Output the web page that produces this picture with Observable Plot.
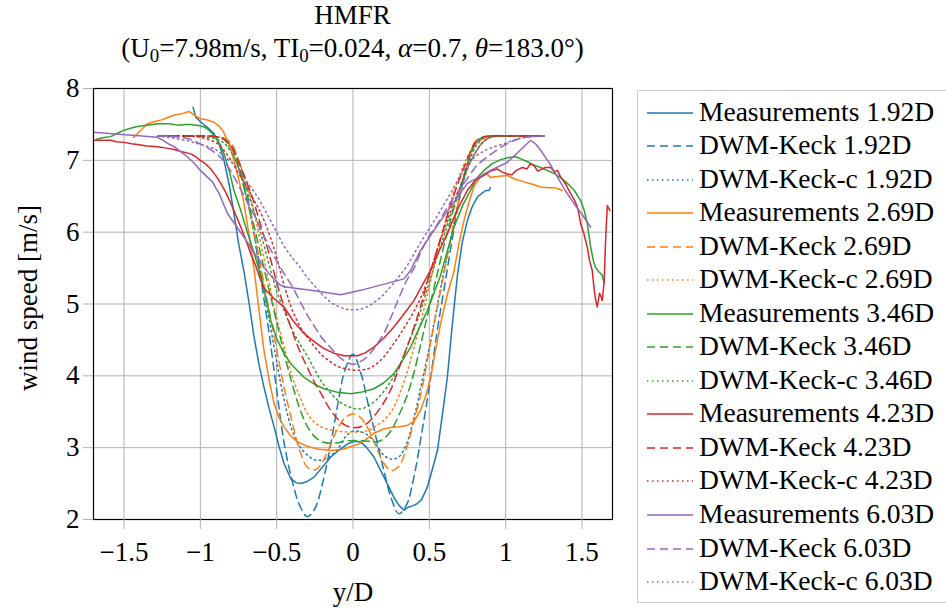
<!DOCTYPE html>
<html>
<head>
<meta charset="utf-8">
<script src="https://cdn.jsdelivr.net/npm/d3@7"></script>
<script src="https://cdn.jsdelivr.net/npm/@observablehq/plot@0.6"></script>
<style>
  body { margin: 0; background: white; }
  #wrap { position: relative; width: 946px; height: 611px; overflow: hidden; background: white; font-family: "Liberation Serif", serif; color: black; }
  .ttl { position: absolute; left: 0; width: 705px; text-align: center; font-size: 27px; line-height: 30px; white-space: nowrap; }
  .ttl sub { font-size: 70%; vertical-align: -0.28em; line-height: 0; }
  #legend { position: absolute; left: 637px; top: 90px; width: 340px; height: 513px; border: 1px solid #cccccc; background: white; box-sizing: border-box; }
  .row { position: absolute; left: 0; height: 34px; display: flex; align-items: center; white-space: nowrap; font-size: 27.5px; }
  .row svg { margin-left: 9px; margin-right: 6px; }
  #chart { position: absolute; left: 0; top: 0; }
</style>
</head>
<body>
<div id="wrap">
  <div class="ttl" style="top:0px">HMFR</div>
  <div class="ttl" style="top:33px">(U<sub>0</sub>=7.98m/s, TI<sub>0</sub>=0.024, <i>α</i>=0.7, <i>θ</i>=183.0°)</div>
  <div id="chart"></div>
  <div id="legend"></div>
</div>
<script>
// ---------- data ----------
const xTicks = [-1.5, -1, -0.5, 0, 0.5, 1, 1.5];
const yTicks = [2, 3, 4, 5, 6, 7, 8];
const distances = ["1.92D", "2.69D", "3.46D", "4.23D", "6.03D"];
const colors = ["#1f77b4", "#ff7f0e", "#2ca02c", "#d62728", "#9467bd"];

// Measurements: [y/D, wind speed]
const meas192 = [[-1.048,7.74],[-1.03,7.6],[-1.02,7.58],[-0.99,7.52],[-0.954,7.46],[-0.91,7.37],[-0.877,7.23],[-0.845,7.0],[-0.81,6.65],[-0.78,6.26],[-0.75,5.85],[-0.714,5.45],[-0.68,5.0],[-0.648,4.54],[-0.615,4.15],[-0.583,3.84],[-0.55,3.55],[-0.517,3.29],[-0.485,3.02],[-0.452,2.78],[-0.408,2.57],[-0.37,2.51],[-0.342,2.5],[-0.3,2.53],[-0.255,2.59],[-0.2,2.73],[-0.146,2.87],[-0.09,2.97],[-0.037,3.05],[0.007,3.09],[0.05,3.08],[0.09,3.0],[0.137,2.87],[0.17,2.73],[0.203,2.59],[0.235,2.45],[0.268,2.31],[0.3,2.2],[0.334,2.13],[0.36,2.17],[0.39,2.19],[0.42,2.22],[0.45,2.28],[0.487,2.45],[0.52,2.7],[0.553,2.96],[0.585,3.45],[0.618,3.98],[0.65,4.7],[0.684,5.4],[0.715,5.85],[0.749,6.16],[0.78,6.35],[0.815,6.49],[0.85,6.55],[0.87,6.58],[0.891,6.58],[0.9,6.62]];
const meas269 = [[-1.438,7.32],[-1.39,7.42],[-1.347,7.51],[-1.3,7.54],[-1.26,7.56],[-1.21,7.6],[-1.17,7.63],[-1.12,7.65],[-1.074,7.68],[-1.04,7.63],[-1.0,7.58],[-0.95,7.56],[-0.91,7.53],[-0.88,7.48],[-0.855,7.42],[-0.822,7.28],[-0.8,7.15],[-0.78,7.0],[-0.75,6.75],[-0.714,6.4],[-0.68,5.95],[-0.648,5.48],[-0.615,4.9],[-0.583,4.35],[-0.55,3.95],[-0.517,3.61],[-0.485,3.42],[-0.452,3.29],[-0.41,3.17],[-0.364,3.08],[-0.3,3.02],[-0.233,2.98],[-0.146,2.96],[-0.08,2.97],[-0.037,3.0],[0.05,3.06],[0.137,3.2],[0.2,3.26],[0.247,3.28],[0.3,3.29],[0.356,3.31],[0.4,3.37],[0.443,3.52],[0.476,3.72],[0.509,3.98],[0.54,4.35],[0.574,4.73],[0.62,5.15],[0.661,5.45],[0.695,5.85],[0.727,6.16],[0.76,6.42],[0.792,6.63],[0.83,6.76],[0.858,6.81],[0.88,6.81],[0.9,6.76],[0.923,6.77],[0.96,6.78],[1.01,6.79],[1.06,6.74],[1.12,6.7],[1.17,6.67],[1.229,6.63],[1.28,6.62],[1.316,6.62],[1.35,6.6],[1.371,6.58]];
const meas346 = [[-1.68,7.29],[-1.65,7.31],[-1.62,7.32],[-1.587,7.33],[-1.55,7.37],[-1.5,7.42],[-1.45,7.45],[-1.412,7.47],[-1.35,7.49],[-1.28,7.51],[-1.2,7.51],[-1.15,7.49],[-1.1,7.5],[-1.063,7.5],[-1.03,7.49],[-1.0,7.48],[-0.97,7.46],[-0.943,7.42],[-0.92,7.37],[-0.9,7.32],[-0.87,7.22],[-0.845,7.09],[-0.81,6.85],[-0.78,6.58],[-0.735,6.3],[-0.692,6.0],[-0.65,5.72],[-0.604,5.4],[-0.57,5.08],[-0.539,4.77],[-0.5,4.52],[-0.452,4.31],[-0.4,4.15],[-0.321,3.98],[-0.25,3.88],[-0.19,3.82],[-0.1,3.77],[-0.015,3.75],[0.05,3.77],[0.137,3.82],[0.2,3.9],[0.268,4.03],[0.32,4.2],[0.378,4.4],[0.43,4.65],[0.487,4.91],[0.53,5.15],[0.574,5.4],[0.62,5.75],[0.661,6.07],[0.72,6.38],[0.77,6.58],[0.81,6.75],[0.858,6.86],[0.91,6.95],[0.967,7.01],[1.02,7.04],[1.065,7.05],[1.1,7.02],[1.142,6.98],[1.19,6.93],[1.229,6.9],[1.27,6.86],[1.316,6.82],[1.36,6.76],[1.404,6.68],[1.45,6.58],[1.491,6.44],[1.515,6.3],[1.535,6.12],[1.557,5.79],[1.575,5.6],[1.589,5.51],[1.61,5.45],[1.633,5.4],[1.645,5.3]];
const meas423 = [[-1.7,7.28],[-1.65,7.28],[-1.587,7.28],[-1.55,7.26],[-1.5,7.25],[-1.45,7.23],[-1.412,7.22],[-1.35,7.2],[-1.28,7.19],[-1.22,7.17],[-1.172,7.15],[-1.12,7.12],[-1.063,7.09],[-1.03,7.05],[-1.0,7.0],[-0.965,6.95],[-0.932,6.88],[-0.9,6.79],[-0.866,6.68],[-0.833,6.55],[-0.8,6.4],[-0.768,6.24],[-0.735,6.07],[-0.7,5.88],[-0.67,5.7],[-0.635,5.52],[-0.604,5.33],[-0.583,5.22],[-0.52,5.08],[-0.452,4.96],[-0.39,4.76],[-0.321,4.59],[-0.25,4.47],[-0.19,4.38],[-0.12,4.31],[-0.059,4.28],[0.029,4.28],[0.08,4.32],[0.137,4.4],[0.2,4.52],[0.268,4.68],[0.33,4.85],[0.4,5.05],[0.45,5.25],[0.509,5.47],[0.56,5.72],[0.618,5.98],[0.68,6.3],[0.749,6.58],[0.8,6.72],[0.858,6.79],[0.9,6.85],[0.946,6.88],[0.975,6.84],[1.01,6.81],[1.04,6.8],[1.07,6.86],[1.109,6.9],[1.14,6.88],[1.16,6.95],[1.185,6.93],[1.21,6.85],[1.229,6.87],[1.26,6.9],[1.295,6.9],[1.32,6.84],[1.34,6.86],[1.36,6.77],[1.39,6.68],[1.425,6.54],[1.45,6.45],[1.47,6.35],[1.48,6.25],[1.491,6.12],[1.51,6.0],[1.535,5.79],[1.55,5.6],[1.567,5.47],[1.58,5.2],[1.59,5.05],[1.6,4.96],[1.615,5.15],[1.625,5.1],[1.633,5.05],[1.645,5.3],[1.655,5.89],[1.666,6.37],[1.683,6.3]];
const meas603 = [[-1.7,7.39],[-1.28,7.32],[-1.24,7.27],[-1.2,7.22],[-1.172,7.19],[-1.13,7.12],[-1.085,7.05],[-1.04,6.96],[-1.0,6.86],[-0.96,6.78],[-0.92,6.7],[-0.9,6.62],[-0.877,6.54],[-0.85,6.4],[-0.822,6.26],[-0.77,6.1],[-0.714,5.93],[-0.65,5.72],[-0.583,5.51],[-0.52,5.35],[-0.48,5.27],[-0.452,5.24],[-0.277,5.19],[-0.08,5.13],[0.05,5.19],[0.334,5.35],[0.378,5.47],[0.443,5.75],[0.574,6.16],[0.749,6.68],[0.836,6.78],[0.9,6.86],[1.01,6.97],[1.164,7.28],[1.2,7.22],[1.229,7.14],[1.29,6.95],[1.339,6.77],[1.39,6.58],[1.447,6.4],[1.5,6.25],[1.557,6.07]];

// Model profiles on a common y/D grid
const modelX = [-1.28,-1.1,-1.0,-0.9,-0.85,-0.8,-0.75,-0.7,-0.65,-0.6,-0.55,-0.5,-0.45,-0.4,-0.35,-0.3,-0.25,-0.2,-0.15,-0.1,-0.05,0,0.05,0.1,0.15,0.2,0.25,0.3,0.35,0.4,0.45,0.5,0.55,0.6,0.65,0.7,0.75,0.8,0.85,0.9,1.0,1.1,1.25];
const keck192 = [7.34,7.34,7.34,7.33,7.31,7.24,7.0,6.6,6.0,5.3,4.6,3.8,3.05,2.55,2.2,2.04,2.15,2.5,3.0,3.6,4.1,4.3,4.05,3.6,3.15,2.7,2.3,2.08,2.2,2.6,3.2,3.85,4.6,5.25,5.9,6.5,6.95,7.25,7.32,7.34,7.34,7.34,7.34];
const keckc192 = [7.34,7.34,7.34,7.33,7.3,7.15,6.9,6.5,6.0,5.4,4.8,4.2,3.65,3.25,3.02,2.9,2.83,2.83,2.88,2.98,3.15,3.23,3.22,3.17,3.05,2.9,2.84,2.87,3.05,3.42,3.9,4.4,4.95,5.5,6.0,6.5,6.9,7.18,7.3,7.34,7.34,7.34,7.34];
const keck269 = [7.34,7.34,7.34,7.33,7.31,7.24,6.97,6.52,6.02,5.47,4.92,4.37,3.82,3.37,2.97,2.73,2.69,2.8,3.03,3.27,3.42,3.47,3.42,3.26,3.02,2.79,2.68,2.74,2.99,3.37,3.8,4.37,4.92,5.47,6.02,6.52,6.97,7.26,7.32,7.34,7.34,7.34,7.34];
const keckc269 = [7.34,7.34,7.34,7.33,7.3,7.2,7.0,6.7,6.3,5.8,5.3,4.8,4.4,4.0,3.72,3.48,3.35,3.28,3.25,3.23,3.22,3.22,3.22,3.24,3.3,3.38,3.5,3.72,4.02,4.4,4.8,5.25,5.7,6.1,6.5,6.8,7.05,7.22,7.3,7.33,7.34,7.34,7.34];
const keck346 = [7.34,7.34,7.34,7.33,7.3,7.2,6.9,6.5,6.1,5.65,5.2,4.75,4.3,3.9,3.55,3.3,3.15,3.08,3.06,3.07,3.09,3.1,3.1,3.09,3.08,3.12,3.24,3.45,3.7,4.05,4.5,4.95,5.4,5.85,6.25,6.6,6.95,7.22,7.32,7.34,7.34,7.34,7.34];
const keckc346 = [7.34,7.34,7.33,7.3,7.25,7.12,6.9,6.62,6.3,5.95,5.55,5.18,4.9,4.65,4.45,4.28,4.08,3.9,3.77,3.66,3.59,3.55,3.54,3.58,3.66,3.78,3.93,4.12,4.38,4.65,4.95,5.3,5.65,5.98,6.3,6.6,6.88,7.1,7.25,7.32,7.34,7.34,7.34];
const keck423 = [7.34,7.34,7.34,7.33,7.3,7.2,6.98,6.72,6.42,6.06,5.7,5.3,4.95,4.63,4.35,4.12,3.9,3.72,3.53,3.4,3.31,3.28,3.29,3.35,3.47,3.62,3.82,4.1,4.38,4.68,5.02,5.4,5.75,6.1,6.45,6.75,7.02,7.24,7.32,7.34,7.34,7.34,7.34];
const keckc423 = [7.34,7.34,7.32,7.25,7.15,7.0,6.82,6.65,6.45,6.25,5.98,5.65,5.25,4.93,4.7,4.54,4.4,4.28,4.2,4.13,4.1,4.08,4.08,4.1,4.16,4.26,4.4,4.55,4.72,4.9,5.12,5.4,5.75,6.05,6.35,6.62,6.9,7.1,7.25,7.32,7.34,7.34,7.34];
const keck603 = [7.34,7.31,7.23,7.1,7.0,6.85,6.65,6.45,6.25,6.02,5.8,5.6,5.42,5.25,5.05,4.85,4.68,4.52,4.4,4.28,4.2,4.16,4.2,4.28,4.42,4.58,4.82,5.08,5.32,5.5,5.75,5.95,6.1,6.28,6.45,6.6,6.75,6.9,7.0,7.08,7.22,7.31,7.34];
const keckc603 = [7.34,7.28,7.22,7.15,7.06,6.98,6.88,6.72,6.57,6.4,6.2,6.0,5.8,5.65,5.52,5.37,5.25,5.13,5.03,4.97,4.93,4.92,4.93,4.97,5.04,5.13,5.25,5.38,5.52,5.7,5.88,6.05,6.22,6.4,6.58,6.78,6.93,7.05,7.12,7.17,7.24,7.31,7.34];

const measurements = [meas192, meas269, meas346, meas423, meas603];
const keck = [keck192, keck269, keck346, keck423, keck603];
const keckc = [keckc192, keckc269, keckc346, keckc423, keckc603];

// ---------- series ----------
const styles = {
  meas: {dash: null},
  keck: {dash: "8,5"},
  keckc: {dash: "1.5,3.5"}
};
const series = [];
distances.forEach((d, i) => {
  series.push({kind: "meas", color: colors[i], name: `Measurements ${d}`,
    data: measurements[i].map(([x, y]) => ({x, y}))});
  series.push({kind: "keck", color: colors[i], name: `DWM-Keck ${d}`,
    data: modelX.map((x, j) => ({x, y: keck[i][j]}))});
  series.push({kind: "keckc", color: colors[i], name: `DWM-Keck-c ${d}`,
    data: modelX.map((x, j) => ({x, y: keckc[i][j]}))});
});

const fmt = d => (d < 0 ? "\u2212" + Math.abs(d) : String(d));

const lineMarks = series.map(s => Plot.line(s.data, {
  x: "x", y: "y", stroke: s.color, strokeWidth: 1.5,
  strokeDasharray: styles[s.kind].dash || undefined,
  curve: s.kind === "meas" ? "linear" : "catmull-rom",
  clip: true
}));

const chart = Plot.plot({
  width: 630,
  height: 611,
  marginLeft: 93,
  marginRight: 18,
  marginTop: 88,
  marginBottom: 92,
  style: {fontFamily: "'Liberation Serif', serif", fontSize: "27px", background: "transparent", color: "black"},
  x: {domain: [-1.7, 1.7]},
  y: {domain: [2, 8]},
  marks: [
    Plot.gridX(xTicks, {stroke: "#b0b0b0", strokeOpacity: 1, strokeWidth: 1}),
    Plot.gridY(yTicks, {stroke: "#b0b0b0", strokeOpacity: 1, strokeWidth: 1}),
    ...lineMarks,
    Plot.frame({stroke: "black", strokeWidth: 1.2}),
    Plot.axisX(xTicks, {tickSize: 10, tickPadding: 12, stroke: "#b0b0b0", tickFormat: fmt, label: null, fill: "black"}),
    Plot.axisY(yTicks, {tickSize: 10, tickPadding: 4, stroke: "#b0b0b0", tickFormat: fmt, label: null, fill: "black"}),
    Plot.text(["y/D"], {frameAnchor: "bottom", dy: 81, text: d => d, fill: "black"}),
    Plot.text(["wind speed [m/s]"], {frameAnchor: "left", dx: -65, dy: -6, rotate: -90, textAnchor: "middle", text: d => d, fill: "black"})
  ]
});
document.getElementById("chart").appendChild(chart);

// ---------- legend ----------
const legend = document.getElementById("legend");
const rowTop = 110.5 - 90, rowStep = 33.54;
series.forEach((s, i) => {
  const row = document.createElement("div");
  row.className = "row";
  row.style.top = (rowTop + i * rowStep - 17) + "px";
  const dash = styles[s.kind].dash;
  row.innerHTML = `<svg width="46" height="34"><line x1="0" x2="46" y1="18" y2="18" stroke="${s.color}" stroke-width="1.5" ${dash ? `stroke-dasharray="${dash}"` : ""}/></svg><span>${s.name}</span>`;
  legend.appendChild(row);
});
</script>
</body>
</html>
